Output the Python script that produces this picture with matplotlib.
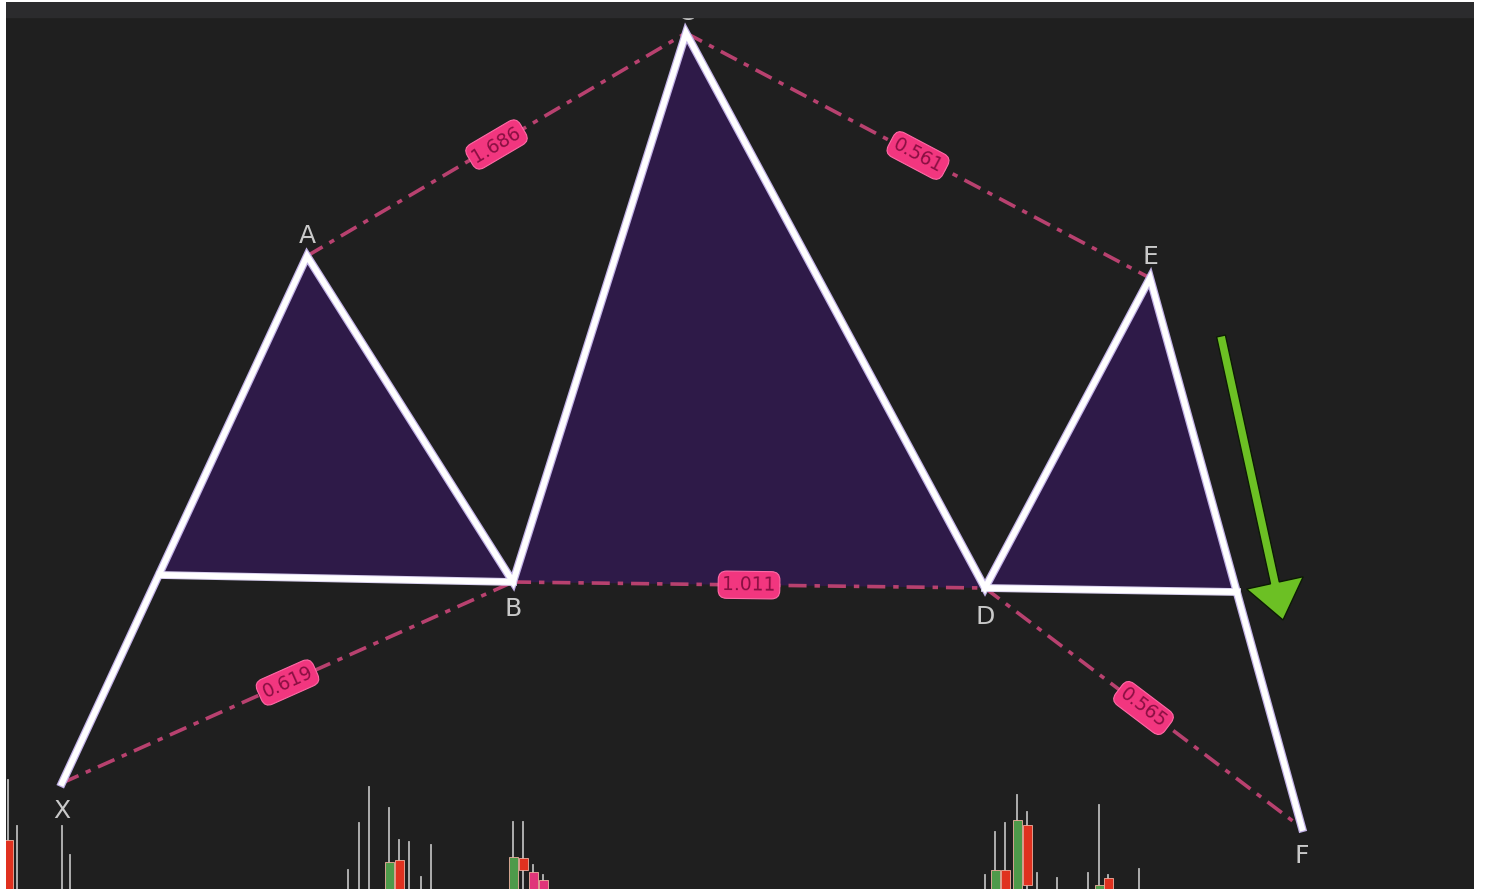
import math
import matplotlib
matplotlib.use("Agg")
import matplotlib.pyplot as plt
from matplotlib.patches import Polygon

# Pattern points in screen pixels (x right, y down)
point_names = ["X", "A", "B", "C", "D", "E", "F"]
point_x = [62, 307, 513, 686, 985, 1150, 1302]
point_y = [783, 256, 582, 33, 588, 278, 828]

# Where the base lines meet XA and EF
xa_cut = (160, 575)
ef_cut = (1237, 592)

# Ratio lines: (from, to, ratio)
ratio_from = ["A", "C", "X", "B", "D"]
ratio_to = ["C", "E", "B", "D", "F"]
ratio_text = ["1.686", "0.561", "0.619", "1.011", "0.565"]

# Candles at the bottom edge: x, wick top, body top, body bottom, colour
candle_x = [8, 17, 62, 70, 348, 359, 369, 389, 399, 409, 421, 431, 513, 523, 533, 543,
            985, 995, 1005, 1017, 1027, 1037, 1057, 1088, 1099, 1108, 1139]
candle_high = [780, 826, 826, 855, 870, 823, 787, 808, 840, 842, 877, 845, 822, 822, 865, 875,
               875, 832, 823, 795, 812, 873, 878, 873, 805, 875, 869]
candle_top = [840, 889, 889, 889, 889, 889, 889, 862, 860, 889, 889, 889, 857, 858, 872, 880,
              889, 870, 870, 820, 825, 889, 889, 889, 885, 878, 889]
candle_bot = [889, 889, 889, 889, 889, 889, 889, 889, 889, 889, 889, 889, 889, 870, 889, 889,
              889, 889, 889, 889, 885, 889, 889, 889, 889, 889, 889]
candle_col = ["r", "n", "n", "n", "n", "n", "n", "g", "r", "n", "n", "n", "g", "r", "p", "p",
              "n", "g", "r", "g", "r", "n", "n", "n", "g", "r", "n"]

arrow_tail = (1221, 336)
arrow_tip = (1283, 620)

BG = "#1f1f1f"
FILL = "#2e1a48"
PINK_LINE = "#b8416f"
PINK_BOX = "#f2367f"
LABEL = "#c9c9c9"
body_colors = {"g": "#4e9a4a", "r": "#e0311f", "p": "#e0357a"}

pts = {n: (x, y) for n, x, y in zip(point_names, point_x, point_y)}

fig = plt.figure(figsize=(14.88, 8.89), dpi=100, facecolor="white")
ax = fig.add_axes([6 / 1488, 0, 1468 / 1488, 887 / 889])
ax.set_facecolor(BG)
ax.set_xlim(6, 1474)
ax.set_ylim(889, 2)
ax.axis("off")
ax.add_patch(plt.Rectangle((0, 0), 1, 1, transform=ax.transAxes, color=BG, zorder=0))
ax.axhspan(2, 17, color="#2b2b2d", zorder=6)

# candles
for x, hi, top, bot, c in zip(candle_x, candle_high, candle_top, candle_bot, candle_col):
    ax.plot([x, x], [hi, 889], color="#b9b9b9", lw=1.3, zorder=1)
    if c in body_colors and bot > top:
        ax.add_patch(plt.Rectangle((x - 4.5, top), 9, bot - top, facecolor=body_colors[c],
                                   edgecolor="#f0b0a0", lw=0.6, zorder=1))

# filled triangles
tri1 = [xa_cut, pts["A"], pts["B"]]
tri2 = [pts["B"], pts["C"], pts["D"]]
tri3 = [pts["D"], pts["E"], ef_cut]
for tri in (tri1, tri2, tri3):
    ax.add_patch(Polygon(tri, closed=True, facecolor=FILL, edgecolor="none", zorder=2))

# ratio lines with labels
for a, b, t in zip(ratio_from, ratio_to, ratio_text):
    (x1, y1), (x2, y2) = pts[a], pts[b]
    ax.plot([x1, x2], [y1, y2], color=PINK_LINE, lw=2.6, ls=(0, (5, 2.2, 1.5, 2.2)), zorder=3)
    ang = math.degrees(math.atan2(-(y2 - y1), x2 - x1))
    ax.text((x1 + x2) / 2, (y1 + y2) / 2, t, rotation=ang, rotation_mode="anchor",
            ha="center", va="center", fontsize=13.5, color="#8a0f42", zorder=5,
            bbox=dict(boxstyle="round,pad=0.22,rounding_size=0.45", facecolor=PINK_BOX,
                      edgecolor="#ff6aa6", lw=0.8))

# white pattern legs
ax.plot(point_x, point_y, color="#c2b2e6", lw=6.0, solid_joinstyle="miter", zorder=3.5)
ax.plot(point_x, point_y, color="white", lw=4.2, solid_joinstyle="miter", zorder=4)
for p, q in ((xa_cut, pts["B"]), (pts["D"], ef_cut)):
    ax.plot([p[0], q[0]], [p[1], q[1]], color="#d8cfee", lw=5.6, zorder=3.5)
    ax.plot([p[0], q[0]], [p[1], q[1]], color="white", lw=4.2, zorder=4)

# point letters (C sits partly under the top bar, as in the screenshot)
offsets = {"X": 28, "A": -20, "B": 27, "C": -20, "D": 29, "E": -21, "F": 28}
for n in point_names:
    x, y = pts[n]
    ax.text(x, y + offsets[n], n, ha="center", va="center", fontsize=18,
            color=LABEL, zorder=5)

# green direction arrow
ax.arrow(arrow_tail[0], arrow_tail[1], arrow_tip[0] - arrow_tail[0], arrow_tip[1] - arrow_tail[1],
         width=9, head_width=58, head_length=38, length_includes_head=True,
         facecolor="#6cc024", edgecolor="#0c1a05", lw=1, zorder=5)

fig.savefig("out.png", dpi=100, facecolor="white")
